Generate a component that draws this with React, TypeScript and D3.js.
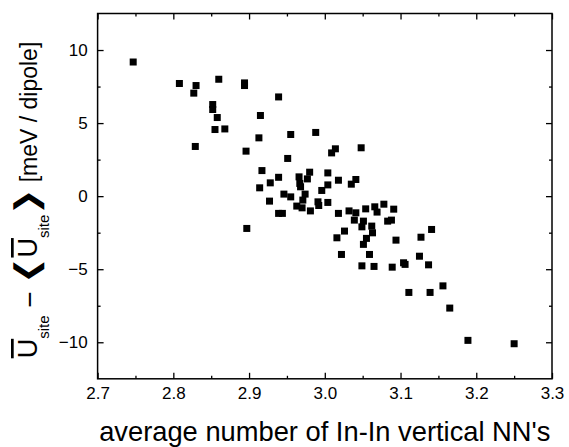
import React, { useEffect, useRef } from "react";
import * as d3 from "d3";

// average number of In-In vertical nearest neighbours per site
const nnAvg = [
  2.747, 2.808, 2.830, 2.827, 2.860, 2.894, 2.894, 2.939, 2.852, 2.852,
  2.858, 2.855, 2.868, 2.829, 2.915, 2.913, 2.955, 2.988, 2.896, 2.951,
  3.014, 3.009, 3.048, 2.917, 2.939, 2.928, 2.914, 2.966, 2.980, 2.977,
  2.967, 2.968, 3.004, 3.004, 2.996, 3.018, 3.041, 3.035, 2.946, 2.955,
  2.927, 2.974, 2.971, 2.963, 2.970, 2.981, 2.991, 2.992, 3.004, 2.939,
  2.944, 3.018, 3.032, 3.041, 3.039, 3.054, 3.066, 3.069, 3.078, 3.091,
  3.051, 3.049, 3.062, 3.063, 3.055, 3.051, 3.083, 3.088, 3.026, 3.016,
  3.094, 3.022, 3.059, 3.049, 3.065, 3.089, 3.104, 3.106, 3.127, 3.141,
  3.125, 3.137, 3.111, 3.139, 3.156, 3.165, 3.189, 3.250, 2.897,
];
// site energy deviation (meV / dipole)
const dU = [
  9.18, 7.71, 7.57, 7.05, 8.0, 7.75, 7.57, 6.79, 6.27, 5.93,
  5.38, 4.56, 4.6, 3.4, 5.52, 3.99, 4.22, 4.36, 3.08, 2.58,
  3.24, 2.96, 3.31, 1.75, 1.29, 0.91, 0.57, 1.32, 1.64, 1.18,
  0.87, 0.64, 1.59, 0.77, 0.39, 1.09, 1.14, 0.82, 0.14, -0.05,
  -0.34, 0.14, -0.27, -0.68, -0.8, -1.01, -0.39, -0.64, -0.43, -1.18,
  -1.18, -1.18, -1.01, -1.14, -1.64, -0.87, -0.73, -1.09, -0.55, -0.89,
  -1.71, -2.1, -2.05, -2.51, -2.89, -3.3, -1.71, -1.64, -2.39, -2.85,
  -3.01, -3.99, -3.99, -4.77, -4.81, -4.86, -4.56, -4.67, -2.81, -2.28,
  -4.11, -4.7, -6.59, -6.59, -6.14, -7.66, -9.87, -10.1, -2.21,
];

const xTicks = [2.7, 2.8, 2.9, 3.0, 3.1, 3.2, 3.3];
const xMinor = [2.75, 2.85, 2.95, 3.05, 3.15, 3.25];
const yTicks = [-10, -5, 0, 5, 10];
const yMinor = [-7.5, -2.5, 2.5, 7.5];

const font = "'Liberation Sans', Arial, sans-serif";

export default function App() {
  const ref = useRef<SVGSVGElement>(null);

  useEffect(() => {
    const svg = d3.select(ref.current);
    svg.selectAll("*").remove();

    const left = 97.6, right = 552, top = 13.5, bottom = 378.8;

    const x = d3.scaleLinear().domain([2.7, 3.3]).range([left, right]);
    const y = d3.scaleLinear().domain([-12.5, 12.5]).range([bottom, top]);

    const addAxis = (axis: any, tx: number, ty: number, labels: boolean) => {
      const g = svg.append("g")
        .attr("transform", "translate(" + tx + "," + ty + ")")
        .call(axis);
      g.select(".domain").remove();
      g.selectAll("line").attr("stroke", "#000").attr("stroke-width", 1.3);
      g.selectAll("text")
        .attr("fill", "#000")
        .style("font-family", font)
        .style("font-size", "17px");
      if (!labels) g.selectAll("text").remove();
      return g;
    };

    // major ticks
    addAxis(d3.axisBottom(x).tickValues(xTicks).tickFormat(d3.format(".1f"))
      .tickSizeInner(-6).tickSizeOuter(0).tickPadding(8), 0, bottom, true);
    addAxis(d3.axisTop(x).tickValues(xTicks).tickSizeInner(-6).tickSizeOuter(0), 0, top, false);
    addAxis(d3.axisLeft(y).tickValues(yTicks).tickFormat(d3.format("d"))
      .tickSizeInner(-6).tickSizeOuter(0).tickPadding(10), left, 0, true);
    addAxis(d3.axisRight(y).tickValues(yTicks).tickSizeInner(-6).tickSizeOuter(0), right, 0, false);

    // minor ticks
    addAxis(d3.axisBottom(x).tickValues(xMinor).tickSizeInner(-3).tickSizeOuter(0), 0, bottom, false);
    addAxis(d3.axisTop(x).tickValues(xMinor).tickSizeInner(-3).tickSizeOuter(0), 0, top, false);
    addAxis(d3.axisLeft(y).tickValues(yMinor).tickSizeInner(-3).tickSizeOuter(0), left, 0, false);
    addAxis(d3.axisRight(y).tickValues(yMinor).tickSizeInner(-3).tickSizeOuter(0), right, 0, false);

    // frame
    svg.append("rect")
      .attr("x", left).attr("y", top)
      .attr("width", right - left).attr("height", bottom - top)
      .attr("fill", "none").attr("stroke", "#000").attr("stroke-width", 1.5);

    // points
    const s = 7;
    svg.append("g")
      .selectAll("rect")
      .data(nnAvg)
      .join("rect")
      .attr("x", (d) => x(d) - s / 2)
      .attr("y", (d, i) => y(dU[i]) - s / 2)
      .attr("width", s)
      .attr("height", s)
      .attr("fill", "#000");

    // x title
    svg.append("text")
      .attr("x", (left + right) / 2)
      .attr("y", 441)
      .attr("text-anchor", "middle")
      .style("font-family", font)
      .style("font-size", "27.3px")
      .text("average number of In-In vertical NN's");

    // y title
    const yt = svg.append("text")
      .attr("transform", "translate(37,200) rotate(-90)")
      .attr("text-anchor", "middle")
      .style("font-family", font)
      .style("font-size", "23px");
    const bigU = () =>
      yt.append("tspan")
        .style("font-size", "27px")
        .style("text-decoration", "overline")
        .text("U");
    bigU();
    yt.append("tspan").attr("dy", 12).style("font-size", "15px").text("site");
    yt.append("tspan").attr("dy", -10).style("font-size", "28px").text(" − ");
    yt.append("tspan").attr("dy", -2).style("font-family", "'DejaVu Sans'").style("font-size", "31px").text("❮");
    bigU();
    yt.append("tspan").attr("dy", 12).style("font-size", "15px").text("site");
    yt.append("tspan").attr("dy", -12).style("font-family", "'DejaVu Sans'").style("font-size", "31px").text("❯");
    yt.append("tspan").text(" [meV / dipole]");
  }, []);

  return (
    <svg
      ref={ref}
      width={569}
      height={447}
      style={{ position: "absolute", left: 0, top: 0, background: "#fff" }}
    />
  );
}
